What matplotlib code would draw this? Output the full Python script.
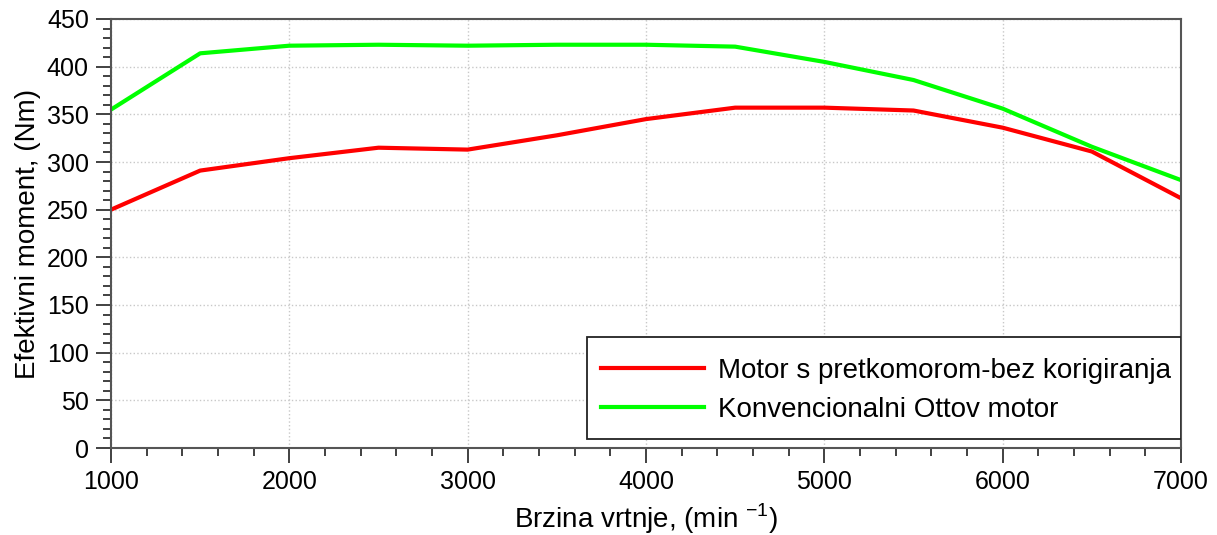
import numpy as np
import matplotlib
matplotlib.use('Agg')
import matplotlib.pyplot as plt
from matplotlib.patches import Rectangle
from matplotlib.ticker import MultipleLocator

# speed points, rpm
rpm = [1000, 1500, 2000, 2500, 3000, 3500, 4000, 4500, 5000, 5500, 6000, 6500, 7000]
# torque, Nm
moment_pretkomora = [250, 291, 304, 315, 313, 328, 345, 357, 357, 354, 336, 311, 262]
moment_otto = [355, 414, 422, 423, 422, 423, 423, 421, 405, 386, 356, 316, 281]

label_pretkomora = 'Motor s pretkomorom-bez korigiranja'
label_otto = 'Konvencionalni Ottov motor'

plt.rcParams['font.family'] = ['Liberation Sans', 'DejaVu Sans']
plt.rcParams['mathtext.fontset'] = 'custom'
plt.rcParams['mathtext.rm'] = 'Liberation Sans'

fig = plt.figure(figsize=(12.17, 5.35), dpi=100)
ax = fig.add_axes([111 / 1217, 1 - 448 / 535, 1070 / 1217, 429 / 535])

ax.plot(rpm, moment_pretkomora, color='#ff0000', lw=3.0, label=label_pretkomora)
ax.plot(rpm, moment_otto, color='#00ff00', lw=3.0, label=label_otto)

ax.set_xlim(1000, 7000)
ax.set_ylim(0, 450)
ax.xaxis.set_major_locator(MultipleLocator(1000))
ax.xaxis.set_minor_locator(MultipleLocator(200))
ax.yaxis.set_major_locator(MultipleLocator(50))
ax.yaxis.set_minor_locator(MultipleLocator(10))

ax.grid(True, which='major', color='#c8c8c8', ls=':', lw=1.0)
ax.tick_params(which='major', direction='out', length=11, width=1.3, color='#333333',
               labelsize=18, pad=5)
ax.tick_params(which='minor', direction='out', length=6, width=1.3, color='#333333')
for s in ax.spines.values():
    s.set_color('#555555')
    s.set_linewidth(1.5)

ax.set_ylabel('Efektivni moment, (Nm)', fontsize=20, labelpad=4)
ax.set_xlabel(r'Brzina vrtnje, (min $^{\mathregular{-1}}$)', fontsize=20, labelpad=5)

# legend box drawn by hand: taller padding than the legend frame allows
box_x0, box_y0 = (587 - 111) / 1070, (448 - 439) / 429
box_w, box_h = 1 - box_x0, (439 - 337) / 429
ax.add_patch(Rectangle((box_x0, box_y0), box_w, box_h, transform=ax.transAxes,
                       facecolor='white', edgecolor='#222222', lw=1.3, zorder=4))
leg = ax.legend(loc='center', bbox_to_anchor=(box_x0 + box_w / 2 + 0.002, box_y0 + box_h / 2 - 0.006),
                borderaxespad=0, fontsize=20, frameon=False, handlelength=3.7,
                handletextpad=0.5, labelspacing=0.46, borderpad=0)
leg.set_zorder(5)

fig.savefig('out.png', dpi=100)
